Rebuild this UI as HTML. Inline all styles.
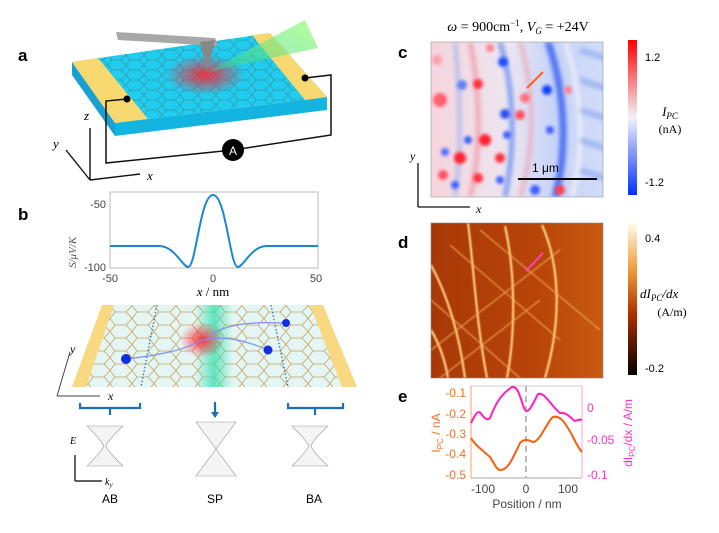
<!DOCTYPE html>
<html><head><meta charset="utf-8"><style>
body{margin:0;background:#fff}
svg{display:block;font-family:"Liberation Sans",sans-serif}
.serif{font-family:"Liberation Serif",serif;font-style:italic}
</style></head><body>
<svg width="719" height="533" viewBox="0 0 719 533" xmlns="http://www.w3.org/2000/svg">
<defs>
<radialGradient id="red" cx="0.5" cy="0.5" r="0.5"><stop offset="0" stop-color="#ff2030" stop-opacity="0.9"/><stop offset="1" stop-color="#ff2030" stop-opacity="0"/></radialGradient>
<linearGradient id="teal" x1="0" x2="1"><stop offset="0" stop-color="#40e0b0" stop-opacity="0"/><stop offset="0.5" stop-color="#40e0b0" stop-opacity="0.8"/><stop offset="1" stop-color="#40e0b0" stop-opacity="0"/></linearGradient>
<linearGradient id="cb1" x1="0" y1="0" x2="0" y2="1"><stop offset="0" stop-color="#ff0000"/><stop offset="0.5" stop-color="#f2f2f8"/><stop offset="1" stop-color="#0030ff"/></linearGradient>
<linearGradient id="cb2" x1="0" y1="0" x2="0" y2="1"><stop offset="0" stop-color="#fffff0"/><stop offset="0.3" stop-color="#f0a040"/><stop offset="0.6" stop-color="#b03000"/><stop offset="1" stop-color="#000"/></linearGradient>
<linearGradient id="cbg" x1="0" x2="1"><stop offset="0" stop-color="#f6d4dc"/><stop offset="0.45" stop-color="#ece6f0"/><stop offset="0.7" stop-color="#c8d4f8"/><stop offset="1" stop-color="#d0dcf8"/></linearGradient>
<linearGradient id="dbg" x1="0" x2="1"><stop offset="0" stop-color="#a83808"/><stop offset="0.6" stop-color="#b84408"/><stop offset="1" stop-color="#c85a14"/></linearGradient>
<linearGradient id="beam" x1="0" y1="1" x2="1" y2="0"><stop offset="0" stop-color="#30d080" stop-opacity="0.4"/><stop offset="1" stop-color="#a0ff80" stop-opacity="0.8"/></linearGradient>
<filter id="bl"><feGaussianBlur stdDeviation="2"/></filter>
<filter id="bl1"><feGaussianBlur stdDeviation="1.5"/></filter>
<filter id="gl"><feGaussianBlur stdDeviation="0.8"/></filter>
<pattern id="hex" width="18" height="10" patternUnits="userSpaceOnUse"><path d="M0 5 L4 0 H13 L18 5 L13 10 H4 Z" fill="none" stroke="#3a8a8a" stroke-width="0.7"/></pattern>
<pattern id="hex2" width="22" height="13" patternUnits="userSpaceOnUse"><path d="M0 6.5 L5 0 H16 L22 6.5 L16 13 H5 Z" fill="none" stroke="#c8a060" stroke-width="0.8"/></pattern>
</defs>

<g font-weight="bold" font-size="17">
<text x="18" y="61">a</text><text x="18" y="220">b</text><text x="398" y="58">c</text><text x="398" y="248">d</text><text x="398" y="402">e</text>
</g>

<!-- Panel a slab -->
<polygon points="72,62 115,123 115,136 72,75" fill="#1aa0d0"/>
<polygon points="115,123 327,97 327,110 115,136" fill="#14b4e0"/>
<polygon points="72,62 270,33 327,97 115,123" fill="#20ccf0"/>
<polygon points="72,62 270,33 327,97 115,123" fill="url(#hex)" opacity="0.8"/>
<polygon points="72,62 98,58 148,119 115,123" fill="#f8d870"/>
<polygon points="252,35 270,33 327,97 305,100" fill="#f8d870"/>
<ellipse cx="205" cy="75" rx="40" ry="20" fill="url(#red)"/>
<polygon points="116,32 215,38 218,46 118,40" fill="#a8a8a8"/>
<polygon points="200,42 215,40 207,72" fill="#888"/>
<polygon points="207,72 305,20 318,48" fill="url(#beam)"/>
<polyline points="127,99 106,101 106,163 233,150 331,135 331,75 305,78" fill="none" stroke="#111" stroke-width="1.5"/>
<circle cx="127" cy="99" r="3.5" fill="#000"/><circle cx="305" cy="78" r="3.5" fill="#000"/>
<circle cx="233" cy="150" r="11" fill="#000"/><text x="233" y="155" fill="#fff" font-size="12" text-anchor="middle">A</text>
<g stroke="#111" stroke-width="1.4" fill="none">
<line x1="90" y1="180" x2="90" y2="128"/><line x1="90" y1="180" x2="140" y2="174"/><line x1="90" y1="180" x2="66" y2="150"/>
</g>
<text class="serif" x="84" y="120" font-size="13">z</text><text class="serif" x="147" y="180" font-size="13">x</text><text class="serif" x="53" y="148" font-size="13">y</text>

<!-- Panel b plot -->
<rect x="110" y="192" width="208" height="76" fill="none" stroke="#aaa" stroke-width="0.8"/>
<g font-size="11" fill="#444">
<text x="106" y="208" text-anchor="end">-50</text><text x="106" y="271" text-anchor="end">-100</text>
<text x="110" y="282" text-anchor="middle">-50</text><text x="213" y="282" text-anchor="middle">0</text><text x="316" y="282" text-anchor="middle">50</text>
</g>
<text class="serif" x="0" y="0" font-size="11" fill="#555" transform="translate(76,268) rotate(-90)">S/μV/K</text>
<text x="213" y="296" font-size="13" text-anchor="middle" font-family="Liberation Serif"><tspan font-style="italic">x</tspan> / nm</text>
<path d="M110 246 L160 246 C175 247 182 266 188 267 C196 268 200 195 213 195 C226 195 230 268 238 267 C244 266 251 247 266 246 L318 246" fill="none" stroke="#1a88cc" stroke-width="2"/>

<!-- Panel b sheet -->
<polygon points="102,305 323,305 357,387 72,387" fill="#e4f6f4"/>
<polygon points="102,305 323,305 357,387 72,387" fill="url(#hex2)"/>
<rect x="195" y="305" width="38" height="82" fill="url(#teal)"/>
<polygon points="102,305 114,305 86,387 72,387" fill="#f8d880"/>
<polygon points="310,305 323,305 357,387 342,387" fill="#f8d880"/>
<ellipse cx="202" cy="340" rx="22" ry="18" fill="url(#red)"/>
<line x1="157" y1="305" x2="141" y2="387" stroke="#2a70b0" stroke-dasharray="1.5,2" stroke-width="1.3"/>
<line x1="271" y1="305" x2="288" y2="387" stroke="#2a70b0" stroke-dasharray="1.5,2" stroke-width="1.3"/>
<path d="M126 359 C160 355 185 350 202 340 C220 335 245 340 268 350" fill="none" stroke="#8090f0" stroke-width="1.2"/>
<path d="M210 335 C230 322 260 322 286 323" fill="none" stroke="#8090f0" stroke-width="1.2"/>
<circle cx="126" cy="359" r="5" fill="#1030e0"/><circle cx="268" cy="350" r="4.5" fill="#1030e0"/><circle cx="286" cy="323" r="4" fill="#1030e0"/>
<g stroke="#444" stroke-width="1" fill="none"><line x1="57" y1="396" x2="100" y2="396"/><line x1="57" y1="396" x2="70" y2="352"/></g>
<text class="serif" x="70" y="353" font-size="12">y</text><text class="serif" x="108" y="400" font-size="12">x</text>
<g stroke="#1a70b0" stroke-width="2.2" fill="none">
<path d="M80 403 V408 H140 V403 M110 408 V415"/>
<path d="M288 403 V408 H343 V403 M315 408 V415"/>
<line x1="215" y1="402" x2="215" y2="413"/>
</g>
<polygon points="211,412 219,412 215,418" fill="#1a70b0"/>
<g stroke="#999" stroke-width="0.6" fill="#f4f4f4">
<path d="M87 426 H123 Q108 440 106 446 Q108 452 123 466 H87 Q101 452 104 446 Q101 440 87 426Z"/>
<path d="M196 422 H236 L216 449 L236 476 H196 L216 449Z"/>
<path d="M292 426 H328 Q313 440 311 446 Q313 452 328 466 H292 Q306 452 309 446 Q306 440 292 426Z"/>
</g>
<g stroke="#000" stroke-width="1.2" fill="none"><line x1="75" y1="481" x2="75" y2="455"/><line x1="75" y1="481" x2="102" y2="481"/></g>
<text class="serif" x="70" y="444" font-size="10">E</text><text class="serif" x="105" y="485" font-size="10">k<tspan font-size="7" dy="2">y</tspan></text>
<g font-size="12" text-anchor="middle"><text x="110" y="503">AB</text><text x="215" y="503">SP</text><text x="314" y="503">BA</text></g>

<!-- Panel c -->
<text x="518" y="31" font-size="14" text-anchor="middle" font-family="Liberation Serif"><tspan font-style="italic">ω</tspan> = 900cm<tspan font-size="9" dy="-5">−1</tspan><tspan dy="5">, </tspan><tspan font-style="italic">V</tspan><tspan font-size="9" dy="3" font-style="italic">G</tspan><tspan dy="-3"> = +24V</tspan></text>
<svg x="431" y="42" width="172" height="155" viewBox="431 42 172 155" overflow="hidden">
<rect x="431" y="42" width="172" height="155" fill="url(#cbg)"/>
<g filter="url(#bl)" fill="none" opacity="0.85">
<path d="M548 42 C565 90 568 150 555 197" stroke="#3a64f0" stroke-width="7"/>
<path d="M565 42 C582 90 585 150 572 197" stroke="#f4f4f8" stroke-width="4"/>
<path d="M580 50 L611 60 M580 80 L611 90 M580 110 L611 120 M580 140 L611 150 M580 170 L611 180" stroke="#98b0f0" stroke-width="6"/>
<path d="M520 42 C535 90 535 150 520 197" stroke="#f0a8b8" stroke-width="4"/>
<path d="M500 42 C515 90 515 150 505 197" stroke="#7090f0" stroke-width="5"/>
<path d="M470 42 C480 90 482 150 470 197" stroke="#f0a0b0" stroke-width="5"/>
<path d="M455 42 C460 90 462 150 455 197" stroke="#a8b8f0" stroke-width="4"/>
</g>
<g filter="url(#bl1)">
<circle cx="478" cy="84" r="5" fill="#ff3040"/><circle cx="503" cy="62" r="5" fill="#2050ff"/><circle cx="547" cy="90" r="5" fill="#1040ff"/>
<circle cx="440" cy="100" r="7" fill="#ff6070"/><circle cx="462" cy="85" r="5" fill="#6080f0"/><circle cx="505" cy="114" r="5" fill="#3050f0"/>
<circle cx="485" cy="140" r="6" fill="#ff2030"/><circle cx="468" cy="140" r="4" fill="#4060ff"/><circle cx="460" cy="158" r="6" fill="#ff2030"/>
<circle cx="445" cy="152" r="4" fill="#5070ff"/><circle cx="443" cy="175" r="5" fill="#ff5060"/><circle cx="455" cy="185" r="4" fill="#4060ff"/>
<circle cx="478" cy="178" r="5" fill="#ff3040"/><circle cx="500" cy="158" r="5" fill="#ff3040"/><circle cx="507" cy="135" r="4" fill="#4060ff"/>
<circle cx="500" cy="180" r="4" fill="#4060ff"/><circle cx="520" cy="115" r="5" fill="#ff5060"/><circle cx="525" cy="98" r="5" fill="#ff7080"/>
<circle cx="550" cy="130" r="4" fill="#4060ff"/><circle cx="568" cy="90" r="4" fill="#ff8090"/><circle cx="560" cy="190" r="5" fill="#ff4050"/>
<circle cx="535" cy="190" r="5" fill="#4060ff"/><circle cx="490" cy="48" r="4" fill="#ff8090"/><circle cx="437" cy="60" r="5" fill="#ffa0a8"/>
</g>
</svg>
<rect x="431" y="42" width="172" height="155" fill="none" stroke="#999" stroke-width="0.6"/>
<line x1="527" y1="88" x2="543" y2="72" stroke="#ff6020" stroke-width="2"/>
<line x1="518" y1="179" x2="597" y2="179" stroke="#000" stroke-width="2"/>
<text x="532" y="172" font-size="12">1 μm</text>
<rect x="628" y="40" width="9" height="155" fill="url(#cb1)"/>
<g font-size="11"><text x="645" y="61">1.2</text><text x="645" y="186">-1.2</text></g>
<text x="670" y="116" font-size="13" text-anchor="middle" font-family="Liberation Serif"><tspan font-style="italic">I</tspan><tspan font-size="9" dy="3" font-style="italic">PC</tspan></text>
<text x="670" y="133" font-size="12" text-anchor="middle" font-family="Liberation Serif">(nA)</text>
<g stroke="#111" stroke-width="1.3" fill="none"><line x1="418" y1="207" x2="418" y2="163"/><line x1="418" y1="207" x2="470" y2="207"/></g>
<text class="serif" x="410" y="160" font-size="12">y</text><text class="serif" x="476" y="213" font-size="12">x</text>

<!-- Panel d -->
<svg x="431" y="223" width="172" height="155" viewBox="431 223 172 155" overflow="hidden">
<rect x="431" y="223" width="172" height="155" fill="url(#dbg)"/>
<g fill="none" stroke="#ffd080" stroke-width="2.2" filter="url(#gl)">
<path d="M468 223 C474 270 476 320 487 378"/>
<path d="M505 226 C515 270 516 330 507 378"/>
<path d="M542 225 C560 265 562 320 545 378"/>
<path d="M431 265 C450 300 460 340 465 378"/>
<path d="M431 330 C440 345 445 360 448 378"/>
</g>
<g fill="none" stroke="#f8b060" stroke-width="1.2" opacity="0.8" filter="url(#gl)">
<path d="M431 350 L560 250"/><path d="M431 300 L520 378"/><path d="M450 245 L560 340"/><path d="M440 378 L540 300"/><path d="M480 230 L600 330"/>
</g>
</svg>
<rect x="431" y="223" width="172" height="155" fill="none" stroke="#888" stroke-width="0.6"/>
<line x1="526" y1="271" x2="543" y2="253" stroke="#ff40c0" stroke-width="2"/>
<rect x="628" y="222" width="9" height="153" fill="url(#cb2)"/>
<g font-size="11"><text x="645" y="242">0.4</text><text x="645" y="372">-0.2</text></g>
<text x="640" y="298" font-size="13" font-family="Liberation Serif"><tspan font-style="italic">dI</tspan><tspan font-size="9" dy="3" font-style="italic">PC</tspan><tspan dy="-3" font-style="italic">/dx</tspan></text>
<text x="672" y="316" font-size="12" text-anchor="middle" font-family="Liberation Serif">(A/m)</text>

<!-- Panel e -->
<line x1="471" y1="386" x2="582" y2="386" stroke="#ccc"/>
<line x1="471" y1="386" x2="471" y2="478" stroke="#f8a070"/>
<line x1="582" y1="386" x2="582" y2="478" stroke="#ffa0e0"/>
<line x1="471" y1="478" x2="582" y2="478" stroke="#aaa"/>
<line x1="526" y1="386" x2="526" y2="478" stroke="#bbb" stroke-width="2" stroke-dasharray="6,4"/>
<g font-size="12" fill="#f07020" text-anchor="end">
<text x="466" y="397">-0.1</text><text x="466" y="418">-0.2</text><text x="466" y="438">-0.3</text><text x="466" y="458">-0.4</text><text x="466" y="479">-0.5</text></g>
<g font-size="12" fill="#ff30c0"><text x="587" y="412">0</text><text x="587" y="444">-0.05</text><text x="587" y="479">-0.1</text></g>
<g font-size="12" fill="#444" text-anchor="middle"><text x="483" y="493">-100</text><text x="526" y="493">0</text><text x="568" y="493">100</text></g>
<text x="527" y="508" font-size="12" fill="#444" text-anchor="middle">Position / nm</text>
<text transform="translate(440,433) rotate(-90)" font-size="12" fill="#f07020" text-anchor="middle">I<tspan font-size="8" dy="3">PC</tspan><tspan dy="-3"> / nA</tspan></text>
<text transform="translate(632,433) rotate(-90)" font-size="12" fill="#ff30c0" text-anchor="middle">dI<tspan font-size="8" dy="3">PC</tspan><tspan dy="-3">/dx / A/m</tspan></text>
<path d="M471 438 C475 445 480 448 490 457 C495 465 497 470 500 470 C508 470 512 460 520 443 C525 438 528 440 533 442 C540 442 548 420 553 417 C560 415 565 422 573 437 C577 445 580 450 582 452" fill="none" stroke="#f06010" stroke-width="2"/>
<path d="M471 423 C475 415 478 408 482 415 C486 420 488 420 490 418 C495 405 500 395 512 387 C518 386 520 397 524 408 C527 415 530 410 538 394 C545 392 550 405 560 413 C568 412 572 420 575 421 C578 420 580 419 582 420" fill="none" stroke="#ff20c0" stroke-width="2"/>
</svg>
</body></html>
